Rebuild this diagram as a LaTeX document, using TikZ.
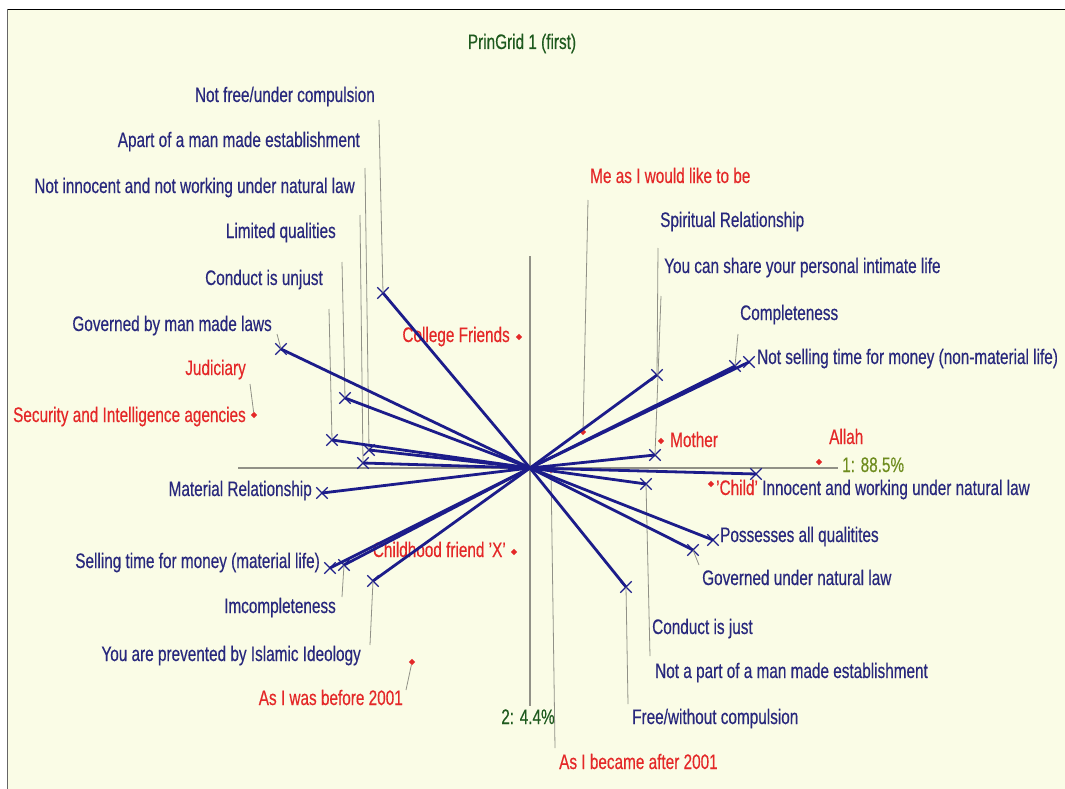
\documentclass[tikz,border=0pt]{standalone}
\usepackage{fontspec}
\setmainfont[FakeStretch=0.73,FakeBold=0.4]{Liberation Sans}
\usetikzlibrary{shapes.misc,shapes.geometric}
\definecolor{pgnavy}{RGB}{28,28,138}
\definecolor{pgtext}{RGB}{40,40,125}
\definecolor{pgred}{RGB}{228,40,40}
\definecolor{pggreen}{RGB}{30,90,30}
\definecolor{pgolive}{RGB}{110,140,30}
\definecolor{pgback}{RGB}{250,252,230}
\definecolor{pggray}{RGB}{145,145,135}
\tikzset{
  % lines
	pgaxis/.style   ={pggray, line width=2pt},          % axes
	pgvec/.style    ={pgnavy, line width=2.8pt},        % construct
	pglead/.style   ={pggray, line width=0.8pt},        % leader
  % points
	pgx/.style      ={cross out, draw=pgnavy, line width=1.3pt, minimum size=10pt, inner sep=0pt},
	pgdot/.style    ={diamond, fill=pgred, minimum size=6.5pt, inner sep=0pt},
  % labels
	pglab/.style    ={text=pgtext, inner sep=0pt, font=\fontsize{21}{24}\selectfont},
	pgelem/.style   ={pglab, text=pgred},
	pgleft/.style   ={anchor=base east},
	pgright/.style  ={anchor=base west}
}

\begin{document}
\begin{tikzpicture}[x=1pt,y=-1pt]
	\useasboundingbox (0,0) rectangle (1065,789);
	\fill[white] (0,0) rectangle (1065,789);
	\fill[pgback] (8,10) rectangle (1065,789);
	\draw[black,line width=1.5pt] (7,9.5)--(1065,9.5);
	\draw[black!60,line width=1.5pt] (7.5,9)--(7.5,789);

	\node[pglab,text=pggreen,anchor=base] (title) at (522,49) {PrinGrid 1 (first)};

	% axes
	\coordinate (O) at (530,468);
	\coordinate (aW) at (238,468);
	\coordinate (aE) at (838,468);
	\coordinate (aN) at (530,256);
	\coordinate (aS) at (530,706);
	\draw[pgaxis] (aW)--(aE);
	\draw[pgaxis] (aN)--(aS);
	\node[pglab,text=pgolive,pgright] (ax1) at (842,472) {1: 88.5\%};
	\node[pglab,text=pggreen,anchor=base] (ax2) at (528,724) {2: 4.4\%};

	% construct poles
	\node[pgx] (xNotFree)      at (383,293) {};
	\node[pgx] (xManLaws)      at (281,349) {};
	\node[pgx] (xLimited)      at (345,398) {};
	\node[pgx] (xUnjust)       at (332,440) {};
	\node[pgx] (xApart)        at (369,450) {};
	\node[pgx] (xNotInnocent)  at (363,463) {};
	\node[pgx] (xMaterial)     at (322,493) {};
	\node[pgx] (xSelling)      at (330,568) {};
	\node[pgx] (xIncomplete)   at (344,565) {};
	\node[pgx] (xPrevented)    at (373,581) {};
	\node[pgx] (xSpiritual)    at (657,375) {};
	\node[pgx] (xShare)        at (655,455) {};
	\node[pgx] (xNotPart)      at (646,484) {};
	\node[pgx] (xCompleteness) at (735,366) {};
	\node[pgx] (xNotSelling)   at (749,362) {};
	\node[pgx] (xInnocent)     at (756,474) {};
	\node[pgx] (xPossesses)    at (713,540) {};
	\node[pgx] (xGovNatural)   at (693,550) {};
	\node[pgx] (xFree)         at (626,587) {};

	% elements
	\node[pgdot] (dCollege)   at (519,337) {};
	\node[pgdot] (dSecurity)  at (254,415) {};
	\node[pgdot] (dChildhood) at (514,552) {};
	\node[pgdot] (dBefore)    at (412,662) {};
	\node[pgdot] (dMeLike)    at (583,432) {};
	\node[pgdot] (dMother)    at (661,441) {};
	\node[pgdot] (dAllah)     at (819,462) {};
	\node[pgdot] (dChild)     at (711,484) {};
	\node[pgdot] (dAfter)     at (551,470) {};

	% leaders
	\coordinate (tNotFree)      at (379,120);
	\coordinate (tApart)        at (365,168);
	\coordinate (tNotInnocent)  at (360,215);
	\coordinate (tLimited)      at (342,262);
	\coordinate (tUnjust)       at (329,309);
	\coordinate (tManLaws)      at (277,334);
	\coordinate (tJudiciary)    at (250,384);
	\coordinate (tIncomplete)   at (342,597);
	\coordinate (tPrevented)    at (370,645);
	\coordinate (tBefore)       at (406,690);
	\coordinate (tMeLike)       at (588,200);
	\coordinate (tSpiritual)    at (658,248);
	\coordinate (tShare)        at (661,296);
	\coordinate (tCompleteness) at (738,334);
	\coordinate (tNotPart)      at (650,656);
	\coordinate (tGovNatural)   at (699,565);
	\coordinate (tFree)         at (628,704);
	\coordinate (tAfter)        at (555,748);
	\begin{scope}[pglead]
		\draw (tNotFree)--(xNotFree.center);
		\draw (tApart)--(xApart.center);
		\draw (tNotInnocent)--(xNotInnocent.center);
		\draw (tLimited)--(xLimited.center);
		\draw (tUnjust)--(xUnjust.center);
		\draw (tManLaws)--(xManLaws.center);
		\draw (tJudiciary)--(dSecurity);
		\draw (tIncomplete)--(xIncomplete.center);
		\draw (tPrevented)--(xPrevented.center);
		\draw (tBefore)--(dBefore);
		\draw (tMeLike)--(dMeLike);
		\draw (tSpiritual)--(xSpiritual.center);
		\draw (tShare)--(xShare.center);
		\draw (tCompleteness)--(xCompleteness.center);
		\draw (tNotPart)--(xNotPart.center);
		\draw (tGovNatural)--(xGovNatural.center);
		\draw (tFree)--(xFree.center);
		\draw (tAfter)--(dAfter);
	\end{scope}

	% labels left
	\node[pglab,pgleft] (lNotFree)     at (375,102) {Not free/under compulsion};
	\node[pglab,pgleft] (lApart)       at (360,147) {Apart of a man made establishment};
	\node[pglab,pgleft] (lNotInnocent) at (355,193) {Not innocent and not working under natural law};
	\node[pglab,pgleft] (lLimited)     at (336,238) {Limited qualities};
	\node[pglab,pgleft] (lUnjust)      at (323,285) {Conduct is unjust};
	\node[pglab,pgleft] (lManLaws)     at (272,331) {Governed by man made laws};
	\node[pgelem,pgleft] (lJudiciary)  at (246,375) {Judiciary};
	\node[pgelem,pgleft] (lSecurity)   at (246,422) {Security and Intelligence agencies};
	\node[pglab,pgleft] (lMaterial)    at (312,496) {Material Relationship};
	\node[pglab,pgleft] (lSelling)     at (320,568) {Selling time for money (material life)};
	\node[pglab,pgleft] (lIncomplete)  at (336,613) {Imcompleteness};
	\node[pglab,pgleft] (lPrevented)   at (361,661) {You are prevented by Islamic Ideology};
	\node[pgelem,pgleft] (lBefore)     at (403,705) {As I was before 2001};
	\node[pgelem,pgleft] (lChildhood)  at (506,557) {Childhood friend 'X'};
	\node[pgelem,pgleft] (lCollege)    at (510,342) {College Friends};

	% labels right
	\node[pgelem,pgright] (lMeLike)      at (590,183) {Me as I would like to be};
	\node[pglab,pgright] (lSpiritual)    at (660,227) {Spiritual Relationship};
	\node[pglab,pgright] (lShare)        at (664,273) {You can share your personal intimate life};
	\node[pglab,pgright] (lCompleteness) at (740,320) {Completeness};
	\node[pglab,pgright] (lNotSelling)   at (757,364) {Not selling time for money (non-material life)};
	\node[pgelem,pgright] (lMother)      at (670,447) {Mother};
	\node[pgelem,pgright] (lAllah)       at (829,444) {Allah};
	\node[pgelem,pgright] (lChild)       at (716,495) {'Child'};
	\node[pglab,pgright] (lInnocent)     at (762,495) {Innocent and working under natural law};
	\node[pglab,pgright] (lPossesses)    at (720,542) {Possesses all qualitites};
	\node[pglab,pgright] (lGovNatural)   at (702,585) {Governed under natural law};
	\node[pglab,pgright] (lConductJust)  at (652,634) {Conduct is just};
	\node[pglab,pgright] (lNotPart)      at (655,678) {Not a part of a man made establishment};
	\node[pglab,pgright] (lFree)         at (632,724) {Free/without compulsion};
	\node[pgelem,pgright] (lAfter)       at (559,769) {As I became after 2001};

	% constructs
	\foreach \m in {xNotFree,xManLaws,xLimited,xUnjust,xApart,xNotInnocent,xMaterial,
		xSelling,xIncomplete,xPrevented,xSpiritual,xShare,xNotPart,xCompleteness,
		xNotSelling,xInnocent,xPossesses,xGovNatural,xFree}
		\draw[pgvec] (O)--(\m.center);
\end{tikzpicture}
\end{document}
